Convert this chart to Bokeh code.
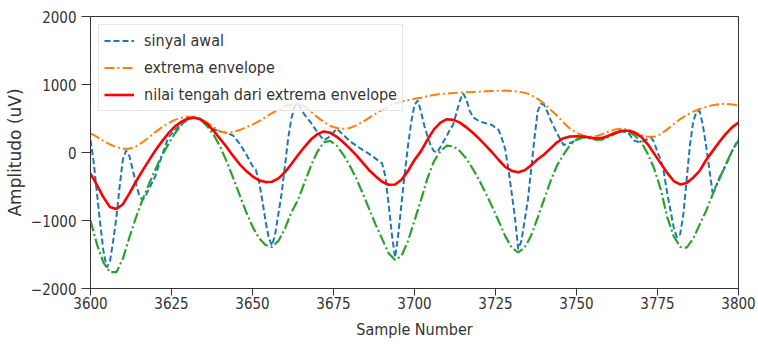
from bokeh.plotting import figure
from bokeh.models import (ColumnDataSource, Legend, LegendItem,
                          FixedTicker, Range1d)
from bokeh.embed import file_html
from bokeh.resources import INLINE

# ---------------- data ----------------
sig_x = [3600, 3601, 3602, 3603, 3604, 3605, 3606, 3607, 3608, 3609, 3610, 3611,
         3612, 3613, 3614, 3615, 3616, 3617, 3618, 3620, 3622, 3624, 3626, 3628,
         3630, 3632, 3634, 3636, 3638, 3640, 3642, 3644, 3646, 3648, 3650, 3651,
         3652, 3653, 3654, 3655, 3656, 3657, 3658, 3659, 3660, 3661, 3662, 3663,
         3664, 3665, 3666, 3668, 3670, 3672, 3674, 3676, 3678, 3680, 3682, 3684,
         3686, 3688, 3690, 3691, 3692, 3693, 3694, 3695, 3696, 3697, 3698, 3699,
         3700, 3701, 3702, 3703, 3704, 3705, 3706, 3707, 3708, 3710, 3712, 3714,
         3715, 3716, 3717, 3718, 3720, 3722, 3724, 3726, 3727, 3728, 3729, 3730,
         3731, 3732, 3733, 3734, 3735, 3736, 3737, 3738, 3739, 3740, 3741, 3742,
         3744, 3746, 3748, 3750, 3752, 3754, 3756, 3758, 3760, 3762, 3764, 3766,
         3767, 3768, 3770, 3772, 3773, 3774, 3775, 3776, 3777, 3778, 3779, 3780,
         3781, 3782, 3783, 3784, 3785, 3786, 3787, 3788, 3789, 3790, 3791, 3792,
         3793, 3794, 3796, 3798, 3800]
sig_y = [180, -150, -600, -1050, -1450, -1690, -1600, -1300, -950, -500, -100, 30,
         -50, -250, -450, -620, -700, -640, -540, -350, -50, 220, 330, 410,
         490, 520, 480, 400, 340, 310, 290, 250, 130, -20, -200, -250,
         -420, -700, -1000, -1250, -1370, -1200, -900, -600, -200, 200, 500, 680,
         720, 640, 560, 440, 300, 180, 240, 350, 260, 170, 100, 40,
         -20, -90, -160, -350, -750, -1200, -1545, -1200, -750, -300, 100, 450,
         700, 765, 600, 400, 240, 100, 20, 0, 80, 250, 420, 760,
         870, 780, 620, 520, 460, 430, 400, 330, 200, 50, -250, -600,
         -950, -1420, -1300, -1000, -700, -250, 200, 600, 720, 700, 600, 480,
         280, 110, 140, 180, 230, 220, 190, 200, 240, 280, 310, 290,
         220, 170, 150, 200, 220, 150, 0, -100, -300, -600, -850, -1100,
         -1250, -1200, -900, -400, 100, 450, 600, 610, 400, 100, -250, -590,
         -500, -380, -200, 20, 200]

env_x = [3600, 3602, 3604, 3606, 3608, 3610, 3612, 3614, 3616, 3618, 3620, 3622,
         3624, 3626, 3628, 3630, 3632, 3634, 3636, 3638, 3640, 3642, 3644, 3646,
         3648, 3650, 3652, 3654, 3656, 3658, 3660, 3662, 3664, 3666, 3668, 3670,
         3672, 3674, 3676, 3678, 3680, 3682, 3684, 3686, 3688, 3690, 3692, 3694,
         3696, 3698, 3700, 3702, 3704, 3706, 3708, 3710, 3712, 3714, 3716, 3718,
         3720, 3722, 3724, 3726, 3728, 3730, 3732, 3734, 3736, 3738, 3740, 3742,
         3744, 3746, 3748, 3750, 3752, 3754, 3756, 3758, 3760, 3762, 3764, 3766,
         3768, 3770, 3772, 3774, 3776, 3778, 3780, 3782, 3784, 3786, 3788, 3790,
         3792, 3794, 3796, 3798, 3800]

upper_y = [280, 230, 170, 120, 80, 55, 55, 90, 150, 220, 300, 370,
           430, 480, 510, 525, 525, 500, 440, 370, 310, 290, 300, 330,
           370, 410, 460, 520, 580, 630, 680, 710, 720, 680, 600, 520,
           450, 390, 360, 350, 360, 400, 450, 510, 570, 630, 680, 720,
           750, 770, 790, 805, 830, 845, 860, 868, 875, 880, 885, 890,
           895, 900, 905, 908, 910, 905, 895, 880, 845, 790, 720, 630,
           540, 440, 350, 290, 250, 230, 240, 270, 310, 340, 350, 335,
           300, 260, 230, 230, 270, 340, 420, 490, 550, 600, 640, 670,
           695, 710, 715, 705, 690]

lower_y = [-1000, -1350, -1620, -1760, -1760, -1560, -1250, -960, -700, -470, -250, -50,
           120, 280, 400, 490, 520, 480, 390, 260, 90, -130, -370, -620,
           -870, -1090, -1260, -1360, -1390, -1300, -1120, -880, -700, -450, -200, 10,
           150, 170, 100, -30, -190, -380, -600, -830, -1060, -1270, -1480, -1580,
           -1520, -1300, -1000, -700, -380, -130, 20, 100, 90, 20, -90, -240,
           -410, -600, -800, -1010, -1230, -1400, -1470, -1400, -1220, -960, -690, -420,
           -190, -30, 110, 190, 220, 210, 190, 190, 230, 280, 320, 310,
           250, 150, -20, -240, -540, -950, -1230, -1390, -1400, -1270, -1060, -860,
           -620, -400, -180, 20, 180]

mean_y = [-310, -480, -660, -800, -830, -760, -600, -430, -270, -120, 30, 160,
          280, 380, 450, 500, 510, 490, 420, 320, 200, 80, -50, -170,
          -270, -350, -410, -435, -430, -380, -290, -170, -40, 80, 190, 270,
          310, 290, 230, 150, 60, -40, -150, -260, -350, -430, -475, -470,
          -400, -270, -110, 20, 190, 340, 440, 490, 480, 440, 370, 290,
          200, 100, 0, -110, -210, -270, -290, -260, -190, -100, -30, 60,
          150, 210, 235, 240, 235, 220, 205, 215, 250, 290, 320, 320,
          290, 230, 120, -20, -160, -300, -420, -470, -450, -370, -270, -110,
          20, 150, 270, 370, 440]

x_ticks = [3600, 3625, 3650, 3675, 3700, 3725, 3750, 3775, 3800]
y_ticks = [-2000, -1000, 0, 1000, 2000]
y_tick_labels = {-2000: "\u22122000", -1000: "\u22121000", 0: "0", 1000: "1000", 2000: "2000"}

labels = ["sinyal awal", "extrema envelope", "nilai tengah dari extrema envelope"]
x_title = "Sample Number"
y_title = "Amplitudo (uV)"

FONT = "DejaVu Sans Condensed"
TXT = "#333333"

# ---------------- figure ----------------
W, H = 758, 344
p = figure(width=W, height=H, output_backend="svg", toolbar_location=None,
           x_range=Range1d(3600, 3800), y_range=Range1d(-2000, 2000),
           min_border_left=90, min_border_right=20, min_border_top=16,
           min_border_bottom=56)
p.background_fill_color = "white"
p.border_fill_color = "white"
p.outline_line_color = "#333333"
p.outline_line_width = 1
p.grid.visible = False

for ax in (p.xaxis[0], p.yaxis[0]):
    ax.axis_line_color = "#333333"
    ax.major_tick_line_color = "#333333"
    ax.minor_tick_line_color = None
    ax.major_tick_in = 0
    ax.major_label_text_font = FONT
    ax.major_label_text_font_size = "15px"
    ax.major_label_text_color = TXT
    ax.axis_label_text_color = TXT
    ax.axis_label_text_font_style = "normal"

xa = p.xaxis[0]
xa.ticker = FixedTicker(ticks=x_ticks)
xa.major_tick_out = 7
xa.major_label_standoff = 1
xa.axis_label = x_title
xa.axis_label_text_font = FONT
xa.axis_label_text_font_size = "16px"
xa.axis_label_standoff = 8

ya = p.yaxis[0]
ya.ticker = FixedTicker(ticks=y_ticks)
ya.major_label_overrides = y_tick_labels
ya.major_tick_out = 9
ya.major_label_standoff = 5
ya.axis_label = y_title
ya.axis_label_text_font = "DejaVu Sans"
ya.axis_label_text_font_size = "17px"
ya.axis_label_standoff = 3

src_sig = ColumnDataSource(dict(x=sig_x, y=sig_y))
src_env = ColumnDataSource(dict(x=env_x, up=upper_y, lo=lower_y, mid=mean_y))

r_sig = p.line("x", "y", source=src_sig, line_color="#1f77b4", line_width=2,
               line_dash="6 3")
r_up = p.line("x", "up", source=src_env, line_color="#ff7f0e", line_width=2,
              line_dash="10 3 2 3")
r_lo = p.line("x", "lo", source=src_env, line_color="#2ca02c", line_width=2.2,
              line_dash="11 3 2 3")
r_mid = p.line("x", "mid", source=src_env, line_color="red", line_width=2.6)

legend = Legend(items=[LegendItem(label=labels[0], renderers=[r_sig]),
                       LegendItem(label=labels[1], renderers=[r_up]),
                       LegendItem(label=labels[2], renderers=[r_mid])],
                location="top_left", margin=8, padding=5, spacing=6,
                glyph_width=30, glyph_height=21, label_height=21,
                label_standoff=10,
                label_text_font=FONT, label_text_font_size="16px",
                label_text_color=TXT,
                border_line_color="#cccccc", border_line_width=1,
                background_fill_color="white", background_fill_alpha=0.8)
p.add_layout(legend, "center")

open("out.html", "w").write(file_html(p, INLINE))
